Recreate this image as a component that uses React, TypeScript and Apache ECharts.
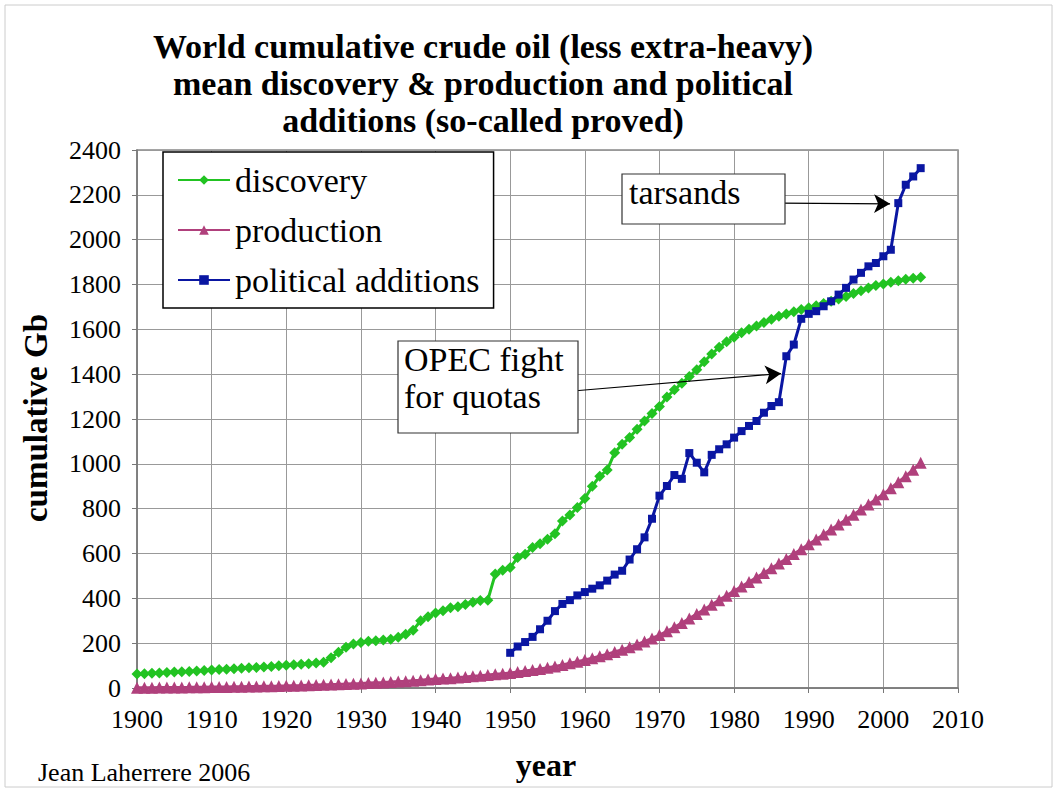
import React, { useEffect, useRef } from "react";
import * as echarts from "echarts";

const startYear = 1900;
const xTicks = [1900, 1910, 1920, 1930, 1940, 1950, 1960, 1970, 1980, 1990, 2000, 2010];

// cumulative discovery (Gb), 1900..2005
const discovery = [
  62, 64, 66, 67, 69, 71, 73, 74, 76, 78,
  80, 82, 84, 86, 88, 90, 92, 94, 96, 99,
  102, 104, 106, 108, 111, 115, 135, 160, 182, 196,
  203, 208, 211, 214, 218, 226, 240, 258, 300, 318,
  335, 345, 358, 362, 372, 382, 390, 392, 508, 525,
  537, 582, 597, 627, 643, 664, 688, 745, 772, 805,
  845, 900, 945, 972, 1050, 1087, 1117, 1154, 1191, 1225,
  1256, 1298, 1330, 1360, 1390, 1420, 1455, 1490, 1520, 1545,
  1565, 1585, 1600, 1615, 1630, 1645, 1658, 1668, 1678, 1688,
  1696, 1705, 1715, 1725, 1735, 1747, 1760, 1772, 1784, 1795,
  1802, 1810, 1817, 1823, 1828, 1832,
];

// cumulative production (Gb), 1900..2005
const production = [
  1.0, 1.3, 1.5, 1.8, 2.1, 2.4, 2.7, 3.0, 3.4, 3.8,
  4.2, 4.6, 5.0, 5.5, 6.0, 6.5, 7.0, 7.6, 8.2, 8.8,
  9.5, 10.3, 11.2, 12.2, 13.2, 14.3, 15.4, 16.6, 17.9, 19.3,
  20.5, 22, 23.5, 25, 26.7, 28.5, 30.5, 32.7, 35, 37.5,
  40, 42, 44, 46.5, 49, 52, 55, 58.5, 61, 64,
  67, 71, 75.5, 80, 85, 90, 96, 103, 110, 117,
  125, 133, 142, 151, 161, 171, 182, 194, 207, 221,
  236, 253, 271, 290, 310, 330, 350, 371, 392, 412,
  433, 453, 473, 493, 513, 534, 555, 576, 598, 619,
  641, 663, 685, 707, 729, 751, 773, 796, 819, 841,
  864, 891, 918, 945, 974, 1005,
];

// cumulative political additions (so-called proved), 1950..2005
const politicalStart = 1950;
const political = [
  157, 185, 205, 228, 262, 300, 343, 375, 392, 413,
  428, 443, 458, 479, 506, 523, 573, 619, 672, 755,
  858, 901, 950, 933, 1048, 1005, 962, 1040, 1065, 1087,
  1117, 1146, 1169, 1191, 1228, 1258, 1275, 1480, 1532, 1647,
  1669, 1681, 1703, 1725, 1755, 1785, 1822, 1852, 1881, 1896,
  1926, 1955, 2163, 2245, 2282, 2319,
];

const titleLines = [
  "World cumulative crude oil (less extra-heavy)",
  "mean discovery & production and political",
  "additions (so-called proved)",
];

const SERIF = "Liberation Serif";

export default function App() {
  const ref = useRef<HTMLDivElement>(null);

  useEffect(() => {
    document.body.style.margin = "0";
    const chart = echarts.init(ref.current!, undefined, { renderer: "svg" });

    const disc = discovery.map((v, i) => [startYear + i, v]);
    const prod = production.map((v, i) => [startYear + i, v]);
    const pol = political.map((v, i) => [politicalStart + i, v]);

    const option: any = {
      animation: false,
      backgroundColor: "#fff",
      textStyle: { fontFamily: SERIF },
      grid: { left: 137, top: 150, right: 101, bottom: 104, show: true, borderColor: "#888", borderWidth: 1.5 },
      xAxis: {
        type: "value",
        min: 1900,
        max: 2010,
        interval: 10,
        axisLine: { show: true, lineStyle: { color: "#777", width: 1.5 } },
        axisTick: { show: true, length: 5, lineStyle: { color: "#777" } },
        axisLabel: { color: "#000", fontFamily: SERIF, fontSize: 26, margin: 18, formatter: (v: number) => (xTicks.includes(v) ? String(v) : "") },
        splitLine: { show: true, lineStyle: { color: "#999", width: 1 } },
      },
      yAxis: {
        type: "value",
        min: 0,
        max: 2400,
        interval: 200,
        axisLine: { show: true, lineStyle: { color: "#777", width: 1.5 } },
        axisTick: { show: true, length: 5, lineStyle: { color: "#777" } },
        axisLabel: { color: "#000", fontFamily: SERIF, fontSize: 26, margin: 16, formatter: (v: number) => String(v) },
        splitLine: { show: true, lineStyle: { color: "#999", width: 1 } },
      },
      legend: {
        orient: "vertical",
        left: 163,
        top: 152,
        padding: [11, 14, 11, 14],
        itemGap: 16,
        itemWidth: 52,
        itemHeight: 12,
        borderColor: "#000",
        borderWidth: 1.5,
        backgroundColor: "#fff",
        textStyle: { fontFamily: SERIF, fontSize: 34, color: "#000" },
        data: ["discovery", "production", "political additions"],
      },
      series: [
        {
          name: "discovery",
          type: "line",
          data: disc,
          symbol: "diamond",
          symbolSize: 11,
          itemStyle: { color: "#22c322" },
          lineStyle: { color: "#22c322", width: 3 },
          z: 3,
        },
        {
          name: "production",
          type: "line",
          data: prod,
          symbol: "triangle",
          symbolSize: 12,
          itemStyle: { color: "#b0407c" },
          lineStyle: { color: "#b0407c", width: 3 },
          z: 2,
        },
        {
          name: "political additions",
          type: "line",
          data: pol,
          symbol: "rect",
          symbolSize: 8,
          itemStyle: { color: "#0a16a2" },
          lineStyle: { color: "#0a16a2", width: 3 },
          z: 4,
          markLine: {
            silent: true,
            symbol: ["none", "arrow"],
            symbolSize: [14, 16],
            label: { show: false },
            lineStyle: { color: "#000", width: 1.2, type: "solid" },
            data: [
              [{ coord: [1986.2, 2163] }, { coord: [2000.9, 2160] }],
              [{ coord: [1958.8, 1326] }, { coord: [1986.3, 1403] }],
            ],
          },
        },
      ],
      graphic: [
        { type: "rect", shape: { x: 5, y: 5, width: 1047, height: 782 }, style: { fill: "none", stroke: "#ccc", lineWidth: 1 }, silent: true },
        ...titleLines.map((t, i) => ({
          type: "text",
          x: 483,
          y: 46 + i * 37,
          style: { text: t, font: `bold 34px ${SERIF}`, fill: "#000", textAlign: "center", textVerticalAlign: "middle" },
        })),
        {
          type: "text",
          x: 36,
          y: 418,
          rotation: Math.PI / 2,
          style: { text: "cumulative Gb", font: `bold 33px ${SERIF}`, fill: "#000", textAlign: "center", textVerticalAlign: "middle" },
        },
        { type: "text", x: 546, y: 765, style: { text: "year", font: `bold 32px ${SERIF}`, fill: "#000", textAlign: "center", textVerticalAlign: "middle" } },
        { type: "text", x: 38, y: 772, style: { text: "Jean Laherrere 2006", font: `26px ${SERIF}`, fill: "#000", textAlign: "left", textVerticalAlign: "middle" } },
        { type: "rect", z: 10, shape: { x: 622, y: 174, width: 163, height: 50 }, style: { fill: "#fff", stroke: "#333", lineWidth: 1.2 } },
        { type: "text", z: 11, x: 629, y: 192, style: { text: "tarsands", font: `34px ${SERIF}`, fill: "#000", textAlign: "left", textVerticalAlign: "middle" } },
        { type: "rect", z: 10, shape: { x: 398, y: 341, width: 180, height: 92 }, style: { fill: "#fff", stroke: "#333", lineWidth: 1.2 } },
        { type: "text", z: 11, x: 404, y: 359, style: { text: "OPEC fight", font: `34px ${SERIF}`, fill: "#000", textAlign: "left", textVerticalAlign: "middle" } },
        { type: "text", z: 11, x: 404, y: 396, style: { text: "for quotas", font: `34px ${SERIF}`, fill: "#000", textAlign: "left", textVerticalAlign: "middle" } },
      ],
    };

    chart.setOption(option);
    return () => chart.dispose();
  }, []);

  return <div ref={ref} style={{ position: "absolute", left: 0, top: 0, width: 1059, height: 792 }} />;
}
